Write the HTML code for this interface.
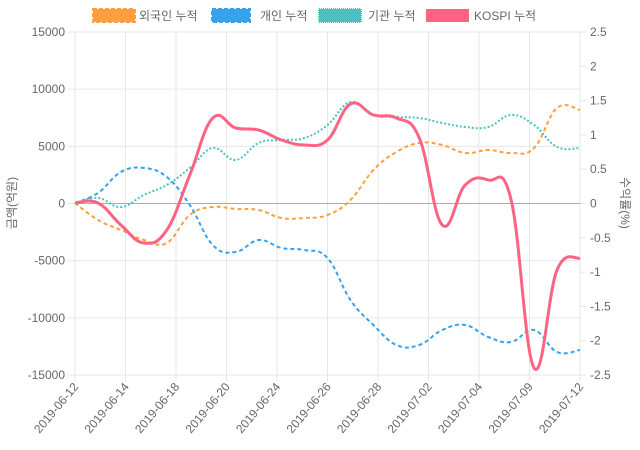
<!DOCTYPE html>
<html><head><meta charset="utf-8"><style>
body{margin:0;background:#fff;}
svg{display:block;font-family:"Liberation Sans","Noto Sans CJK KR",sans-serif;}
</style></head><body>
<svg id="s" width="640" height="450" xmlns="http://www.w3.org/2000/svg">
<g id="grid" stroke="#e6e6e6" stroke-width="1"></g>
<line x1="75" y1="203.5" x2="580" y2="203.5" stroke="#aaa" stroke-width="1"/>
<g id="lbl" font-size="12" fill="#666"></g>
<g id="series" fill="none"></g>
<g font-size="12" fill="#666">
<rect x="93" y="9" width="42" height="13" fill="#ff9f40" stroke="#ff9f40" stroke-width="2" stroke-dasharray="4,2"/>
<text x="139" y="20">외국인 누적</text>
<rect x="212" y="9" width="38" height="13" fill="#36a2eb" stroke="#36a2eb" stroke-width="2" stroke-dasharray="4,2"/>
<text x="260" y="20">개인 누적</text>
<rect x="319" y="9" width="42" height="13" fill="#4bc0c0" stroke="#4bc0c0" stroke-width="2" stroke-dasharray="1,1"/>
<text x="368" y="20">기관 누적</text>
<rect x="426" y="9" width="43" height="13" fill="#ff6384"/>
<text x="474" y="20">KOSPI 누적</text>
<text transform="translate(16,203) rotate(-90)" text-anchor="middle">금액(억원)</text>
<text transform="translate(621,203) rotate(90)" text-anchor="middle">수익률(%)</text>
</g>
</svg>
<script>
(function(){
const NS="http://www.w3.org/2000/svg";
function el(p,t,a,txt){const e=document.createElementNS(NS,t);for(const k in a)e.setAttribute(k,a[k]);if(txt!=null)e.textContent=txt;document.getElementById(p).appendChild(e);return e;}
const yT=32,yB=375;
for(let i=0;i<=6;i++){const y=yT+(yB-yT)*i/6;el("grid","line",{x1:68,x2:580,y1:y,y2:y});
el("lbl","text",{x:65,y:y+4,"text-anchor":"end"},String(15000-5000*i));}
for(let i=0;i<=10;i++){const y=yT+(yB-yT)*i/10;el("grid","line",{x1:580,x2:586,y1:y,y2:y});
el("lbl","text",{x:590,y:y+4},String(+(2.5-0.5*i).toFixed(1)));}
const dates=["2019-06-12","2019-06-14","2019-06-18","2019-06-20","2019-06-24","2019-06-26","2019-06-28","2019-07-02","2019-07-04","2019-07-09","2019-07-12"];
for(let i=0;i<=10;i++){const x=75+505*i/10;el("grid","line",{x1:x,x2:x,y1:yT,y2:yB+6});
el("lbl","text",{transform:`translate(${x+4},${yB+12}) rotate(-50)`,"text-anchor":"end"},dates[i]);}
const xs=[];for(let i=0;i<23;i++)xs.push(75+505*i/22);
function path(ys){const p=ys.map((y,i)=>[xs[i],y]);let d=`M${p[0][0]},${p[0][1]}`;const t=0.2;
for(let i=0;i<p.length-1;i++){const p0=p[i-1]||p[i],p1=p[i],p2=p[i+1],p3=p[i+2]||p2;
d+=` C${p1[0]+(p2[0]-p0[0])*t},${p1[1]+(p2[1]-p0[1])*t} ${p2[0]-(p3[0]-p1[0])*t},${p2[1]-(p3[1]-p1[1])*t} ${p2[0]},${p2[1]}`;}return d;}
const ser=[
["#ff9f40","4,3",2,[203,220,230,240,243,215,207,209,210,218,218,215,200,170,152,143,145,153,150,153,148,108,110]],
["#36a2eb","4,3",2,[203,193,172,168,177,205,245,252,240,248,250,258,300,325,345,345,330,325,337,342,330,352,350]],
["#4bc0c0","2,2",2,[203,198,207,195,185,168,148,160,143,140,138,125,102,115,117,118,123,127,127,115,125,147,148]],
["#ff6384",null,3,[203,203,225,243,230,175,118,128,130,140,145,140,104,115,118,138,225,185,180,200,368,270,258]]];
for(const s of ser){const a={d:path(s[3]),stroke:s[0],"stroke-width":s[2]};if(s[1])a["stroke-dasharray"]=s[1];el("series","path",a);}
})();
</script>
</body></html>
